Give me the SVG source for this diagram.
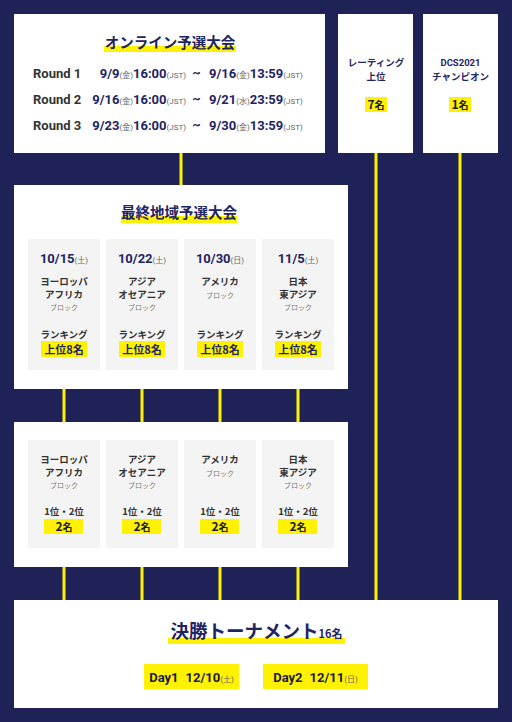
<svg xmlns="http://www.w3.org/2000/svg" width="512" height="722" viewBox="0 0 512 722">
<style>
.bg{fill:#1f2257}
.box{fill:#ffffff}
.card{fill:#f4f4f4}
.hl{fill:#fff200}
.ln{stroke:#fff200;stroke-width:3;fill:none}
.jp{font-family:"Noto Sans CJK JP","Noto Sans",sans-serif;font-weight:bold}
.ro{font-family:Roboto,"Noto Sans CJK JP",sans-serif;font-weight:bold}
.navy{fill:#1f2462}
.dk{fill:#333333}
.sm{font-size:8px;font-weight:normal;fill:#666666}
.title{font-size:14.5px}
.reg{font-size:9.5px;fill:#333333}
.blk{font-size:7px;font-weight:normal;fill:#777777}
.c{text-anchor:middle}
</style>
<rect class="bg" x="0" y="0" width="512" height="722"/>
<g id="connectors">
<line class="ln" x1="181" y1="150" x2="181" y2="188"/>
<line class="ln" x1="376" y1="150" x2="376" y2="603"/>
<line class="ln" x1="460" y1="150" x2="460" y2="603"/>
<line class="ln" x1="64" y1="386" x2="64" y2="425"/>
<line class="ln" x1="142" y1="386" x2="142" y2="425"/>
<line class="ln" x1="220" y1="386" x2="220" y2="425"/>
<line class="ln" x1="298" y1="386" x2="298" y2="425"/>
<line class="ln" x1="64" y1="564" x2="64" y2="603"/>
<line class="ln" x1="142" y1="564" x2="142" y2="603"/>
<line class="ln" x1="220" y1="564" x2="220" y2="603"/>
<line class="ln" x1="298" y1="564" x2="298" y2="603"/>
</g>
<g id="online">
<rect class="box" x="14" y="14" width="311" height="139"/>
<rect class="hl" x="104" y="46" width="132" height="6"/>
<text class="jp navy title c" x="170" y="47.5">オンライン予選大会</text>
<text class="ro dk" x="33" y="78" font-size="13">Round 1</text>
<text class="ro dk" x="33" y="104" font-size="13">Round 2</text>
<text class="ro dk" x="33" y="130" font-size="13">Round 3</text>
<text class="ro navy" x="186" y="78" font-size="13" text-anchor="end">9/9<tspan class="sm">(金)</tspan>16:00<tspan class="sm">(JST)</tspan></text>
<text class="ro navy" x="186" y="104" font-size="13" text-anchor="end">9/16<tspan class="sm">(金)</tspan>16:00<tspan class="sm">(JST)</tspan></text>
<text class="ro navy" x="186" y="130" font-size="13" text-anchor="end">9/23<tspan class="sm">(金)</tspan>16:00<tspan class="sm">(JST)</tspan></text>
<text class="ro navy c" x="196.5" y="77" font-size="13">~</text>
<text class="ro navy c" x="196.5" y="103" font-size="13">~</text>
<text class="ro navy c" x="196.5" y="129" font-size="13">~</text>
<text class="ro navy" x="209" y="78" font-size="13">9/16<tspan class="sm">(金)</tspan>13:59<tspan class="sm">(JST)</tspan></text>
<text class="ro navy" x="209" y="104" font-size="13">9/21<tspan class="sm">(水)</tspan>23:59<tspan class="sm">(JST)</tspan></text>
<text class="ro navy" x="209" y="130" font-size="13">9/30<tspan class="sm">(金)</tspan>13:59<tspan class="sm">(JST)</tspan></text>
</g>
<g id="rating">
<rect class="box" x="338" y="14" width="75" height="139"/>
<text class="jp navy c" x="376" y="66" font-size="9.5">レーティング</text>
<text class="jp navy c" x="376" y="80" font-size="9.5">上位</text>
<rect class="hl" x="365" y="97" width="22" height="15"/>
<text class="jp c" x="376" y="109" font-size="12" fill="#1a1a3a">7<tspan font-size="10">名</tspan></text>
</g>
<g id="champion">
<rect class="box" x="423" y="14" width="75" height="139"/>
<text class="ro navy c" x="460.5" y="66" font-size="9.5">DCS2021</text>
<text class="jp navy c" x="460.5" y="80" font-size="9.5">チャンピオン</text>
<rect class="hl" x="449" y="97" width="22" height="15"/>
<text class="jp c" x="460" y="109" font-size="12" fill="#1a1a3a">1<tspan font-size="10">名</tspan></text>
</g>
<g id="regional">
<rect class="box" x="14" y="185" width="334" height="204"/>
<rect class="hl" x="121" y="216" width="116" height="7"/>
<text class="jp navy title c" x="179" y="218">最終地域予選大会</text>
<rect class="card" x="28" y="239" width="72" height="131"/>
<rect class="card" x="106" y="239" width="72" height="131"/>
<rect class="card" x="184" y="239" width="72" height="131"/>
<rect class="card" x="262" y="239" width="72" height="131"/>
<text class="ro navy c" x="64" y="263" font-size="13">10/15<tspan class="sm">(土)</tspan></text>
<text class="ro navy c" x="142" y="263" font-size="13">10/22<tspan class="sm">(土)</tspan></text>
<text class="ro navy c" x="220" y="263" font-size="13">10/30<tspan class="sm">(日)</tspan></text>
<text class="ro navy c" x="298" y="263" font-size="13">11/5<tspan class="sm">(土)</tspan></text>
<text class="jp reg c" x="64" y="285">ヨーロッパ</text>
<text class="jp reg c" x="64" y="298">アフリカ</text>
<text class="jp blk c" x="64" y="310">ブロック</text>
<text class="jp reg c" x="142" y="285">アジア</text>
<text class="jp reg c" x="142" y="298">オセアニア</text>
<text class="jp blk c" x="142" y="310">ブロック</text>
<text class="jp reg c" x="220" y="285">アメリカ</text>
<text class="jp blk c" x="220" y="298">ブロック</text>
<text class="jp reg c" x="298" y="285">日本</text>
<text class="jp reg c" x="298" y="298">東アジア</text>
<text class="jp blk c" x="298" y="310">ブロック</text>
<text class="jp reg c" x="64" y="338">ランキング</text>
<text class="jp reg c" x="142" y="338">ランキング</text>
<text class="jp reg c" x="220" y="338">ランキング</text>
<text class="jp reg c" x="298" y="338">ランキング</text>
<rect class="hl" x="41" y="341" width="46" height="16"/>
<rect class="hl" x="119" y="341" width="46" height="16"/>
<rect class="hl" x="197" y="341" width="46" height="16"/>
<rect class="hl" x="275" y="341" width="46" height="16"/>
<text class="jp navy c" x="64" y="353.5" font-size="11">上位8名</text>
<text class="jp navy c" x="142" y="353.5" font-size="11">上位8名</text>
<text class="jp navy c" x="220" y="353.5" font-size="11">上位8名</text>
<text class="jp navy c" x="298" y="353.5" font-size="11">上位8名</text>
</g>
<g id="qualified">
<rect class="box" x="14" y="422" width="334" height="145"/>
<rect class="card" x="28" y="440" width="72" height="108"/>
<rect class="card" x="106" y="440" width="72" height="108"/>
<rect class="card" x="184" y="440" width="72" height="108"/>
<rect class="card" x="262" y="440" width="72" height="108"/>
<text class="jp reg c" x="64" y="463">ヨーロッパ</text>
<text class="jp reg c" x="64" y="476">アフリカ</text>
<text class="jp blk c" x="64" y="488">ブロック</text>
<text class="jp reg c" x="142" y="463">アジア</text>
<text class="jp reg c" x="142" y="476">オセアニア</text>
<text class="jp blk c" x="142" y="488">ブロック</text>
<text class="jp reg c" x="220" y="463">アメリカ</text>
<text class="jp blk c" x="220" y="476">ブロック</text>
<text class="jp reg c" x="298" y="463">日本</text>
<text class="jp reg c" x="298" y="476">東アジア</text>
<text class="jp blk c" x="298" y="488">ブロック</text>
<text class="jp reg c" x="64" y="515">1位・2位</text>
<text class="jp reg c" x="142" y="515">1位・2位</text>
<text class="jp reg c" x="220" y="515">1位・2位</text>
<text class="jp reg c" x="298" y="515">1位・2位</text>
<rect class="hl" x="44" y="519" width="39" height="15"/>
<rect class="hl" x="122" y="519" width="39" height="15"/>
<rect class="hl" x="200" y="519" width="39" height="15"/>
<rect class="hl" x="278" y="519" width="39" height="15"/>
<text class="jp c" x="64" y="531" font-size="12" fill="#1a1a3a">2<tspan font-size="10">名</tspan></text>
<text class="jp c" x="142" y="531" font-size="12" fill="#1a1a3a">2<tspan font-size="10">名</tspan></text>
<text class="jp c" x="220" y="531" font-size="12" fill="#1a1a3a">2<tspan font-size="10">名</tspan></text>
<text class="jp c" x="298" y="531" font-size="12" fill="#1a1a3a">2<tspan font-size="10">名</tspan></text>
</g>
<g id="finals">
<rect class="box" x="14" y="600" width="484" height="108"/>
<rect class="hl" x="168" y="638" width="177" height="6"/>
<text class="jp navy c" x="256.5" y="638" font-size="18.5">決勝トーナメント<tspan font-size="11">16名</tspan></text>
<rect class="hl" x="144" y="664" width="95" height="25"/>
<rect class="hl" x="263" y="664" width="105" height="25"/>
<text class="ro c" x="191.5" y="682" font-size="13" fill="#1a1a3a">Day1<tspan dx="7">12/10</tspan><tspan class="sm" fill="#333">(土)</tspan></text>
<text class="ro c" x="315.5" y="682" font-size="13" fill="#1a1a3a">Day2<tspan dx="7">12/11</tspan><tspan class="sm" fill="#333">(日)</tspan></text>
</g>
</svg>
